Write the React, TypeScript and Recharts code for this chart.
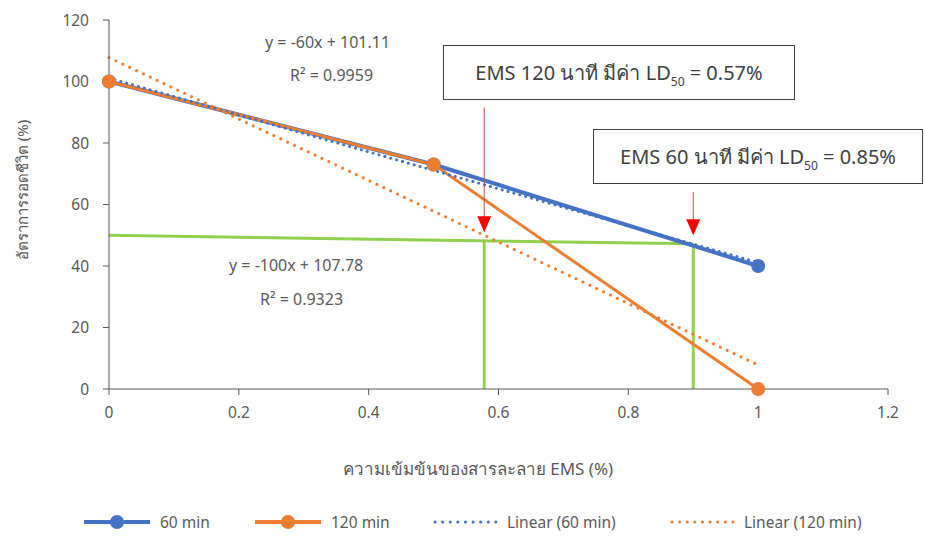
import React from 'react';
import {
    LineChart,
    Line,
    XAxis,
    YAxis,
    ReferenceLine,
} from 'recharts';

// ความเข้มข้น EMS (%)
const concentrations = [0, 0.5, 1];
const survival60 = [100, 73, 40];
const survival120 = [100, 73, 0];

// trendline end points
const trendX = [0, 1];
const trend60 = [101.1, 41.1];
const trend120 = [107.8, 7.8];

// LD50 guide lines (green) and arrows (red)
const guideStart = { x: 0, y: 50 };
const guideEnd = { x: 0.9, y: 47.2 };
const ld50Points = [0.578, 0.9];
const ld50Tops = [48.2, 47.2];
const arrowTops = [91.5, 64];
const arrowTips = [51, 50];

const xTicks = [0, 0.2, 0.4, 0.6, 0.8, 1, 1.2];
const yTicks = [0, 20, 40, 60, 80, 100, 120];

const toRows = (xs: number[], ys: number[]) => xs.map((x, i) => ({ x, y: ys[i] }));

const rows60 = toRows(concentrations, survival60);
const rows120 = toRows(concentrations, survival120);
const rowsTrend60 = toRows(trendX, trend60);
const rowsTrend120 = toRows(trendX, trend120);

const BLUE = '#4472C4';
const ORANGE = '#ED7D31';
const GREEN = '#92D050';
const AXIS = '#595959';
const FONT = '"Noto Sans", "DejaVu Sans", sans-serif';

const Arrow = (props: any) => {
    const { x1, y1, x2, y2 } = props;
    return (
        <g>
            <line x1={x1} y1={y1} x2={x2} y2={y2 - 14} stroke="#C0504D" strokeWidth={1} />
            <path d={`M${x2 - 7},${y2 - 16} L${x2 + 7},${y2 - 16} L${x2},${y2} Z`} fill="#FF0000" />
        </g>
    );
};

const LegendIcon = ({ color, dotted, marker }: { color: string; dotted?: boolean; marker?: boolean }) => (
    <svg width={marker ? 70 : 66} height={14} style={{ marginRight: 8 }}>
        <line
            x1={2}
            y1={7}
            x2={marker ? 68 : 64}
            y2={7}
            stroke={color}
            strokeWidth={dotted ? 3 : 4}
            strokeDasharray={dotted ? '0.1 7.5' : undefined}
            strokeLinecap={dotted ? 'round' : 'butt'}
        />
        {marker && <circle cx={35} cy={7} r={7} fill={color} />}
    </svg>
);

const legendItems = [
    { label: '60 min', color: BLUE, marker: true, left: 82 },
    { label: '120 min', color: ORANGE, marker: true, left: 253 },
    { label: 'Linear (60 min)', color: BLUE, dotted: true, left: 433 },
    { label: 'Linear (120 min)', color: ORANGE, dotted: true, left: 670 },
];

const textStyle: React.CSSProperties = {
    position: 'absolute',
    fontFamily: FONT,
    color: AXIS,
    whiteSpace: 'nowrap',
};

const boxStyle: React.CSSProperties = {
    position: 'absolute',
    border: '1.5px solid #404040',
    background: '#fff',
    fontFamily: FONT,
    fontSize: 20,
    color: '#404040',
    display: 'flex',
    alignItems: 'center',
    justifyContent: 'center',
    whiteSpace: 'nowrap',
    boxSizing: 'border-box',
};

const subStyle: React.CSSProperties = { fontSize: 12, verticalAlign: '-6px', lineHeight: 0 };

const App: React.FC = () => {
    return (
        <div style={{ position: 'absolute', left: 0, top: 0, width: 925, height: 538, background: '#fff', overflow: 'hidden' }}>
            <LineChart width={925} height={538} margin={{ top: 20, right: 37, left: 19, bottom: 119 }}>
                <XAxis
                    type="number"
                    dataKey="x"
                    domain={[0, 1.2]}
                    ticks={xTicks}
                    stroke={AXIS}
                    tick={{ fill: AXIS, fontSize: 15.5, fontFamily: FONT }}
                    tickSize={6}
                    tickMargin={12}
                    height={30}
                />
                <YAxis
                    type="number"
                    dataKey="y"
                    domain={[0, 120]}
                    ticks={yTicks}
                    stroke={AXIS}
                    tick={{ fill: AXIS, fontSize: 15.5, fontFamily: FONT }}
                    tickSize={6}
                    tickMargin={14}
                    width={90}
                />
                <ReferenceLine segment={[guideStart, guideEnd]} stroke={GREEN} strokeWidth={3} />
                {ld50Points.map((x, i) => (
                    <ReferenceLine
                        key={`v${i}`}
                        segment={[{ x, y: 0 }, { x, y: ld50Tops[i] }]}
                        stroke={GREEN}
                        strokeWidth={3}
                    />
                ))}
                <Line data={rows60} dataKey="y" stroke={BLUE} strokeWidth={4} dot={{ r: 7, fill: BLUE, stroke: BLUE, strokeWidth: 0 }} isAnimationActive={false} />
                <Line data={rows120} dataKey="y" stroke={ORANGE} strokeWidth={3} dot={{ r: 7, fill: ORANGE, stroke: ORANGE, strokeWidth: 0 }} isAnimationActive={false} />
                <Line data={rowsTrend60} dataKey="y" stroke={BLUE} strokeWidth={3} strokeDasharray="0.1 6" strokeLinecap="round" dot={false} isAnimationActive={false} />
                <Line data={rowsTrend120} dataKey="y" stroke={ORANGE} strokeWidth={3} strokeDasharray="0.1 7.5" strokeLinecap="round" dot={false} isAnimationActive={false} />
                {ld50Points.map((x, i) => (
                    <ReferenceLine
                        key={`a${i}`}
                        segment={[{ x, y: arrowTops[i] }, { x, y: arrowTips[i] }]}
                        shape={Arrow}
                    />
                ))}
            </LineChart>

            <div style={{ ...textStyle, left: 265, top: 31, fontSize: 16 }}>y = -60x + 101.11</div>
            <div style={{ ...textStyle, left: 290, top: 64, fontSize: 16 }}>R² = 0.9959</div>
            <div style={{ ...textStyle, left: 229, top: 254, fontSize: 16 }}>y = -100x + 107.78</div>
            <div style={{ ...textStyle, left: 260, top: 288, fontSize: 16 }}>R² = 0.9323</div>

            <div style={{ ...boxStyle, left: 443, top: 45, width: 352, height: 55 }}>
                <span>
                    EMS 120 นาที มีค่า LD<sub style={subStyle}>50</sub> = 0.57%
                </span>
            </div>
            <div style={{ ...boxStyle, left: 593, top: 129, width: 330, height: 55 }}>
                <span>
                    EMS 60 นาที มีค่า LD<sub style={subStyle}>50</sub> = 0.85%
                </span>
            </div>

            <div
                style={{
                    ...textStyle,
                    left: 23,
                    top: 190,
                    fontSize: 15,
                    transform: 'translate(-50%, -50%) rotate(-90deg)',
                }}
            >
                อัตราการรอดชีวิต (%)
            </div>
            <div style={{ ...textStyle, left: 478, top: 468, fontSize: 17, transform: 'translate(-50%, -50%)' }}>
                ความเข้มข้นของสารละลาย EMS (%)
            </div>

            {legendItems.map((item) => (
                <div
                    key={item.label}
                    style={{ ...textStyle, left: item.left, top: 512, fontSize: 15.5, display: 'flex', alignItems: 'center', height: 20 }}
                >
                    <LegendIcon color={item.color} dotted={item.dotted} marker={item.marker} />
                    {item.label}
                </div>
            ))}
        </div>
    );
};

export default App;
